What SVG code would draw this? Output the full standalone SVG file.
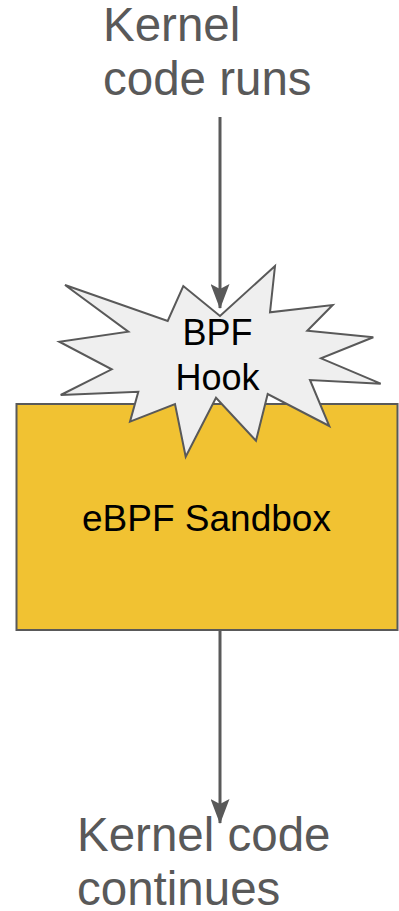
<svg xmlns="http://www.w3.org/2000/svg" width="399" height="911" viewBox="0 0 399 911">
  <style>
    .label { font-family: "Liberation Sans", Arial, sans-serif; fill: #595959; font-size: 47.5px; }
    .inner { font-family: "Liberation Sans", Arial, sans-serif; fill: #000000; text-anchor: middle; }
    .conn { stroke: #595959; stroke-width: 3; fill: none; }
  </style>
  <defs>
    <marker id="arrow" markerUnits="userSpaceOnUse" viewBox="0 0 25 19" markerWidth="25" markerHeight="19" refX="24" refY="9.5" orient="auto">
      <path d="M0,0 L25,9.5 L0,19 L5,9.5 Z" fill="#595959"/>
    </marker>
  </defs>
  <rect width="399" height="911" fill="#ffffff"/>

  <g id="kernel-runs">
    <text class="label" x="103" y="41">Kernel</text>
    <text class="label" x="103" y="95">code runs</text>
  </g>

  <g id="sandbox">
    <rect x="16.5" y="404" width="381" height="226" fill="#f1c232" stroke="#595959" stroke-width="2"/>
    <text class="inner" x="206.5" y="531" font-size="37">eBPF Sandbox</text>
  </g>

  <g id="bpf-hook">
    <polygon points="65,285 167.7,321 183.3,286 220,316 275,266 270,312.3 332.7,305 307.3,330.7 373.3,337.3 321,358.3 380.7,383.7 310,380 329.3,426 267.7,394 256,440.7 216,397.7 185.7,456.7 175,404 130,421.7 138.3,391.7 60.7,395 111.7,369.3 59.3,341.7 128.3,331.7" fill="#efefef" stroke="#595959" stroke-width="2" stroke-linejoin="miter"/>
    <text class="inner" x="217.5" y="345" font-size="36">BPF</text>
    <text class="inner" x="217.5" y="390" font-size="36">Hook</text>
  </g>

  <g id="kernel-continues">
    <text class="label" x="77" y="851">Kernel code</text>
    <text class="label" x="77" y="905">continues</text>
  </g>

  <g id="connectors">
    <line class="conn" x1="220" y1="117" x2="220" y2="308" marker-end="url(#arrow)"/>
    <line class="conn" x1="220" y1="631" x2="220" y2="823" marker-end="url(#arrow)"/>
  </g>
</svg>
